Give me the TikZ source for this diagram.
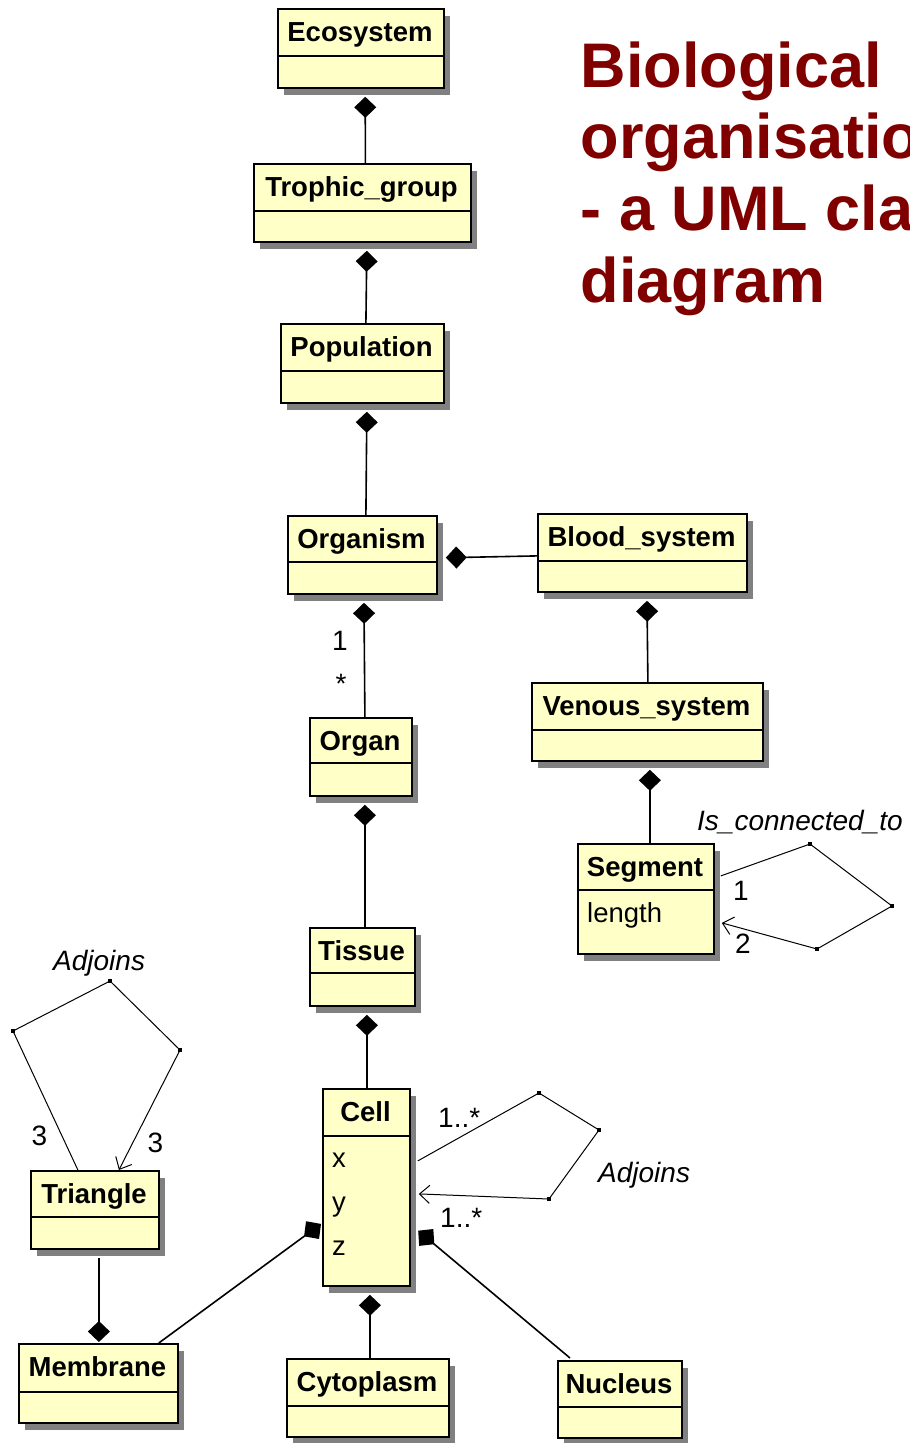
\documentclass[tikz,border=0pt]{standalone}
\usepackage{fontspec}
\setmainfont{Liberation Sans}
\usetikzlibrary{arrows.meta,calc}
\definecolor{umlfill}{RGB}{255,255,200}
\definecolor{umlshadow}{RGB}{128,128,128}
\definecolor{titlered}{RGB}{128,0,0}
\newcommand\umlclass[7]{%
  \fill[umlshadow] (#2+7,#3+8) rectangle (#2+#4+7,#3+#5+8);
  \node[cls, minimum width=#4pt, minimum height=#5pt] (#1) at (#2,#3) {};
  \draw[line width=1.8pt] (#2,#3+#6) -- (#2+#4,#3+#6);
  \node[boxtitle] (#1-t) at (#2+#4/2,#3+33) {#7};
}
\begin{document}
\begin{tikzpicture}[x=1pt,y=-1pt,
  cls/.style={draw=black, line width=1.8pt, fill=umlfill, inner sep=0pt, anchor=north west},
  boxtitle/.style={font=\fontsize{27.5}{30}\selectfont\bfseries, inner sep=0pt, anchor=base},
  attr/.style={font=\fontsize{27.5}{30}\selectfont, inner sep=0pt, anchor=base west},
  lbl/.style={font=\fontsize{28}{30}\selectfont, inner sep=0pt, anchor=base},
  rolename/.style={font=\fontsize{28}{30}\selectfont\itshape, inner sep=0pt, anchor=base west},
  titletext/.style={font=\fontsize{63}{71}\selectfont\bfseries, text=titlered, inner sep=0pt, anchor=base west},
  comp/.style={line width=1.6pt, -{Diamond[length=21pt,width=22pt]}},
  compgap/.style={comp, shorten >=8pt},
  assoc/.style={line width=1pt},
  nav/.style={assoc, -{Straight Barb[length=10pt,width=18pt,line width=1pt]}},
  vertex/.style={fill=black, rectangle, minimum size=4.5pt, inner sep=0pt}
]
\useasboundingbox (0,0) rectangle (910,1443);
\fill[white] (0,0) rectangle (910,1443);

% title
\node[titletext] (ttl1) at (580.5,87) {Biological};
\node[titletext] (ttl2) at (580.5,158) {organisatio};
\node[titletext] (ttl3) at (580.5,230) {- a UML cla};
\node[titletext] (ttl4) at (580.5,302) {diagram};

% loop vertices
\node[vertex] (s1) at (810,844) {};
\node[vertex] (s2) at (892,906) {};
\node[vertex] (s3) at (817,949) {};
\node[vertex] (c1) at (539,1093) {};
\node[vertex] (c2) at (599,1130) {};
\node[vertex] (c3) at (549,1199) {};
\node[vertex] (t1) at (13,1031) {};
\node[vertex] (t2) at (110,981) {};
\node[vertex] (t3) at (180,1050) {};

% classes
\umlclass{eco}{277}{8}{166}{79}{48}{Ecosystem}
\umlclass{tro}{253}{163}{217}{78}{48}{Trophic\_group}
\umlclass{pop}{280}{323}{163}{79}{48}{Population}
\umlclass{org}{287}{515}{149}{78}{47}{Organism}
\umlclass{blood}{537}{513}{209}{78}{48}{Blood\_system}
\umlclass{organ}{309}{717}{102}{78}{46}{Organ}
\umlclass{ven}{531}{682}{231}{78}{48}{Venous\_system}
\umlclass{seg}{577}{843}{136}{110}{47}{Segment}
\umlclass{tis}{309}{927}{105}{78}{46}{Tissue}
\umlclass{cell}{322}{1088}{87}{197}{48}{Cell}
\umlclass{tri}{30}{1170}{128}{78}{47}{Triangle}
\umlclass{mem}{18}{1343}{159}{79}{49}{Membrane}
\umlclass{cyto}{286}{1358}{162}{78}{48}{Cytoplasm}
\umlclass{nuc}{557}{1360}{124}{77}{47}{Nucleus}

% attributes
\node[attr] (seglen) at (587,922) {length};
\node[attr] (cellx) at (332,1167) {x};
\node[attr] (celly) at (332,1211) {y};
\node[attr] (cellz) at (332,1255) {z};

% compositions
\draw[compgap] ([xshift=3pt]tro.north) -- ([xshift=4.3pt]eco.south);
\draw[compgap] ([xshift=3.5pt]pop.north) -- ([xshift=4.5pt]tro.south);
\draw[compgap] ([xshift=3.5pt]org.north) -- ([xshift=4.5pt]pop.south);
\draw[compgap] ([yshift=-3pt]blood.west) -- ([yshift=-3pt]org.east);
\draw[compgap] ([xshift=4pt]organ.north) -- ([xshift=1.5pt]org.south);
\draw[compgap] ([xshift=0.5pt]ven.north) -- ([xshift=4.5pt]blood.south);
\draw[compgap] ([xshift=4pt]seg.north) -- ([xshift=2.5pt]ven.south);
\draw[compgap] ([xshift=2.5pt]tis.north) -- ([xshift=4pt]organ.south);
\draw[compgap] ([xshift=0.5pt]cell.north) -- ([xshift=4.5pt]tis.south);
\draw[compgap] ([xshift=2pt]cyto.north) -- ([xshift=3.5pt]cell.south);
\draw[comp, shorten >=1pt] ([xshift=4pt,yshift=-8pt]tri.south) -- ([xshift=0.5pt]mem.north);
\draw[comp] ([xshift=-20pt]mem.north east) -- ([xshift=-1pt,yshift=-36.5pt]cell.west);
\draw[comp] ([xshift=13pt,yshift=2pt]nuc.north west) -- ([xshift=7.4pt,yshift=-43.3pt]cell.east);

% self associations
\draw[nav] ([xshift=6pt,yshift=23pt]seg.east) -- (s1.center) -- (s2.center) -- (s3.center) -- ([xshift=7pt,yshift=-24pt]seg.east);
\draw[nav] ([xshift=7pt,yshift=26.5pt]cell.east) -- (c1.center) -- (c2.center) -- (c3.center) -- ([xshift=8pt,yshift=-6.5pt]cell.east);
\draw[nav] ([xshift=-17pt]tri.north) -- (t1.center) -- (t2.center) -- (t3.center) -- ([xshift=24pt]tri.north);

% labels
\node[lbl] (m1) at (340,650) {1};
\node[lbl] (m2) at (341,693) {*};
\node[rolename] (sgr) at (697,830) {Is\_connected\_to};
\node[lbl] (sg1) at (741,900) {1};
\node[lbl] (sg2) at (743,953) {2};
\node[lbl, anchor=base west] (cm1) at (438,1127) {1..*};
\node[lbl, anchor=base west] (cm2) at (440,1227) {1..*};
\node[rolename] (car) at (598,1182) {Adjoins};
\node[rolename] (tar) at (53,970) {Adjoins};
\node[lbl] (t3a) at (39.5,1145) {3};
\node[lbl] (t3b) at (155.5,1152) {3};
\end{tikzpicture}
\end{document}
